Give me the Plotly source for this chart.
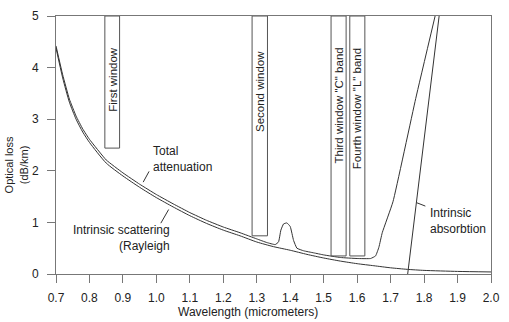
import plotly.graph_objects as go

# Intrinsic scattering (Rayleigh) curve
rayleigh_wl = [0.70, 0.72, 0.74, 0.76, 0.78, 0.80, 0.85, 0.90, 0.95, 1.00, 1.05, 1.10,
               1.15, 1.20, 1.25, 1.30, 1.35, 1.40, 1.45, 1.50, 1.55, 1.60, 1.65, 1.70,
               1.75, 1.80, 1.90, 2.00]
rayleigh_loss = [4.38, 3.80, 3.33, 3.00, 2.75, 2.55, 2.15, 1.90, 1.68, 1.48, 1.30, 1.13,
                 0.98, 0.85, 0.74, 0.62, 0.53, 0.46, 0.38, 0.31, 0.25, 0.20, 0.16, 0.12,
                 0.09, 0.07, 0.05, 0.04]

# Total attenuation curve
total_wl = [0.70, 0.72, 0.74, 0.76, 0.78, 0.80, 0.85, 0.90, 0.95, 1.00, 1.05, 1.10,
            1.15, 1.20, 1.25, 1.30, 1.33, 1.355, 1.365, 1.372, 1.38, 1.39, 1.40, 1.41,
            1.42, 1.44, 1.47, 1.50, 1.55, 1.60, 1.64, 1.655, 1.665, 1.675, 1.707, 1.775,
            1.833]
total_loss = [4.42, 3.86, 3.39, 3.06, 2.81, 2.61, 2.21, 1.96, 1.74, 1.54, 1.36, 1.19,
              1.04, 0.91, 0.80, 0.68, 0.61, 0.57, 0.62, 0.85, 0.97, 0.99, 0.92, 0.65,
              0.50, 0.45, 0.41, 0.37, 0.32, 0.30, 0.30, 0.35, 0.52, 0.80, 1.40, 3.40,
              5.00]

# Intrinsic absorption (straight line)
absorption_wl = [1.751, 1.845]
absorption_loss = [0.0, 5.0]

# Transmission windows
window_names = ["First window", "Second window", 'Third window "C" band', 'Fourth window "L" band']
window_start = [0.846, 1.286, 1.522, 1.578]
window_end = [0.890, 1.332, 1.567, 1.623]
window_bottom = [2.44, 0.74, 0.35, 0.35]

x_ticks = [0.7, 0.8, 0.9, 1.0, 1.1, 1.2, 1.3, 1.4, 1.5, 1.6, 1.7, 1.8, 1.9, 2.0]
y_ticks = [0, 1, 2, 3, 4, 5]

FONT = "Liberation Sans, Arial, sans-serif"
TXT = "#222222"
LINE = "#333333"
AXC = "#777777"
FS = 12

fig = go.Figure()
fig.add_trace(go.Scatter(x=rayleigh_wl, y=rayleigh_loss, mode="lines",
                         line=dict(color=LINE, width=1, shape="spline", smoothing=0.6),
                         hoverinfo="skip"))
fig.add_trace(go.Scatter(x=total_wl, y=total_loss, mode="lines",
                         line=dict(color=LINE, width=1, shape="spline", smoothing=0.35),
                         hoverinfo="skip"))
fig.add_trace(go.Scatter(x=absorption_wl, y=absorption_loss, mode="lines",
                         line=dict(color=LINE, width=1), hoverinfo="skip"))

W, H = 509, 322
L, R, T, B = 56, 9, 10, 48
pw, ph = W - L - R, H - T - B


def px_x(p):
    return (p - L) / pw


def px_y(p):
    return 1 - (p - T) / ph


for name, x0, x1, yb, cy in zip(window_names, window_start, window_end, window_bottom,
                                [75, 87, 102, 105]):
    fig.add_shape(type="rect", x0=x0, x1=x1, y0=yb, y1=5, xref="x", yref="y",
                  line=dict(color="#555555", width=1), fillcolor="rgba(0,0,0,0)")
    fig.add_annotation(x=(x0 + x1) / 2, y=px_y(cy), xref="x", yref="paper",
                       text=name, textangle=-90, showarrow=False,
                       font=dict(family=FONT, size=11.5, color=TXT),
                       xanchor="center", yanchor="middle")

# Text labels
fig.add_annotation(x=px_x(153), y=px_y(156), xref="paper", yref="paper",
                   text="Total<br>attenuation", showarrow=False, align="left",
                   xanchor="left", yanchor="middle",
                   font=dict(family=FONT, size=FS, color=TXT))
fig.add_annotation(x=px_x(174), y=px_y(237), xref="paper", yref="paper",
                   text="Intrinsic scattering<br>(Rayleigh", showarrow=False, align="right",
                   xanchor="right", yanchor="middle",
                   font=dict(family=FONT, size=FS, color=TXT))
fig.add_annotation(x=px_x(436), y=px_y(220), xref="paper", yref="paper",
                   text="Intrinsic<br>absorbtion", showarrow=False, align="left",
                   xanchor="left", yanchor="middle",
                   font=dict(family=FONT, size=FS, color=TXT))

# Leader lines
for (ax0, ay0, ax1, ay1) in [(145, 180, 151, 169), (163, 222, 171, 208), (424, 201, 433, 204.5)]:
    fig.add_shape(type="line", xref="paper", yref="paper",
                  x0=px_x(ax0), y0=px_y(ay0), x1=px_x(ax1), y1=px_y(ay1),
                  line=dict(color=LINE, width=1))

# Axis titles
fig.add_annotation(x=px_x(15), y=px_y(162), xref="paper", yref="paper",
                   text="Optical loss<br>(dB/km)", textangle=-90, showarrow=False,
                   xanchor="center", yanchor="middle",
                   font=dict(family=FONT, size=11, color=TXT))
fig.add_annotation(x=px_x(252), y=px_y(313), xref="paper", yref="paper",
                   text="Wavelength (micrometers)", showarrow=False,
                   xanchor="center", yanchor="middle",
                   font=dict(family=FONT, size=FS, color=TXT))

fig.update_layout(
    width=W, height=H,
    margin=dict(l=L, r=R, t=T, b=B),
    paper_bgcolor="white", plot_bgcolor="white",
    showlegend=False,
    font=dict(family=FONT, size=FS, color=TXT),
)
fig.update_xaxes(range=[0.7, 2.0], tickvals=x_ticks, tickformat=".1f",
                 showgrid=False, zeroline=False, showline=True, linecolor=AXC,
                 linewidth=1, mirror=True, ticks="outside", ticklen=8, tickcolor=AXC,
                 ticklabelstandoff=5,
                 tickfont=dict(family=FONT, size=FS, color=TXT))
fig.update_yaxes(range=[0, 5], tickvals=y_ticks,
                 showgrid=False, zeroline=False, showline=True, linecolor=AXC,
                 linewidth=1, mirror=True, ticks="outside", ticklen=8, tickcolor=AXC,
                 ticklabelstandoff=6,
                 tickfont=dict(family=FONT, size=FS, color=TXT))

fig.write_html("out.html")
